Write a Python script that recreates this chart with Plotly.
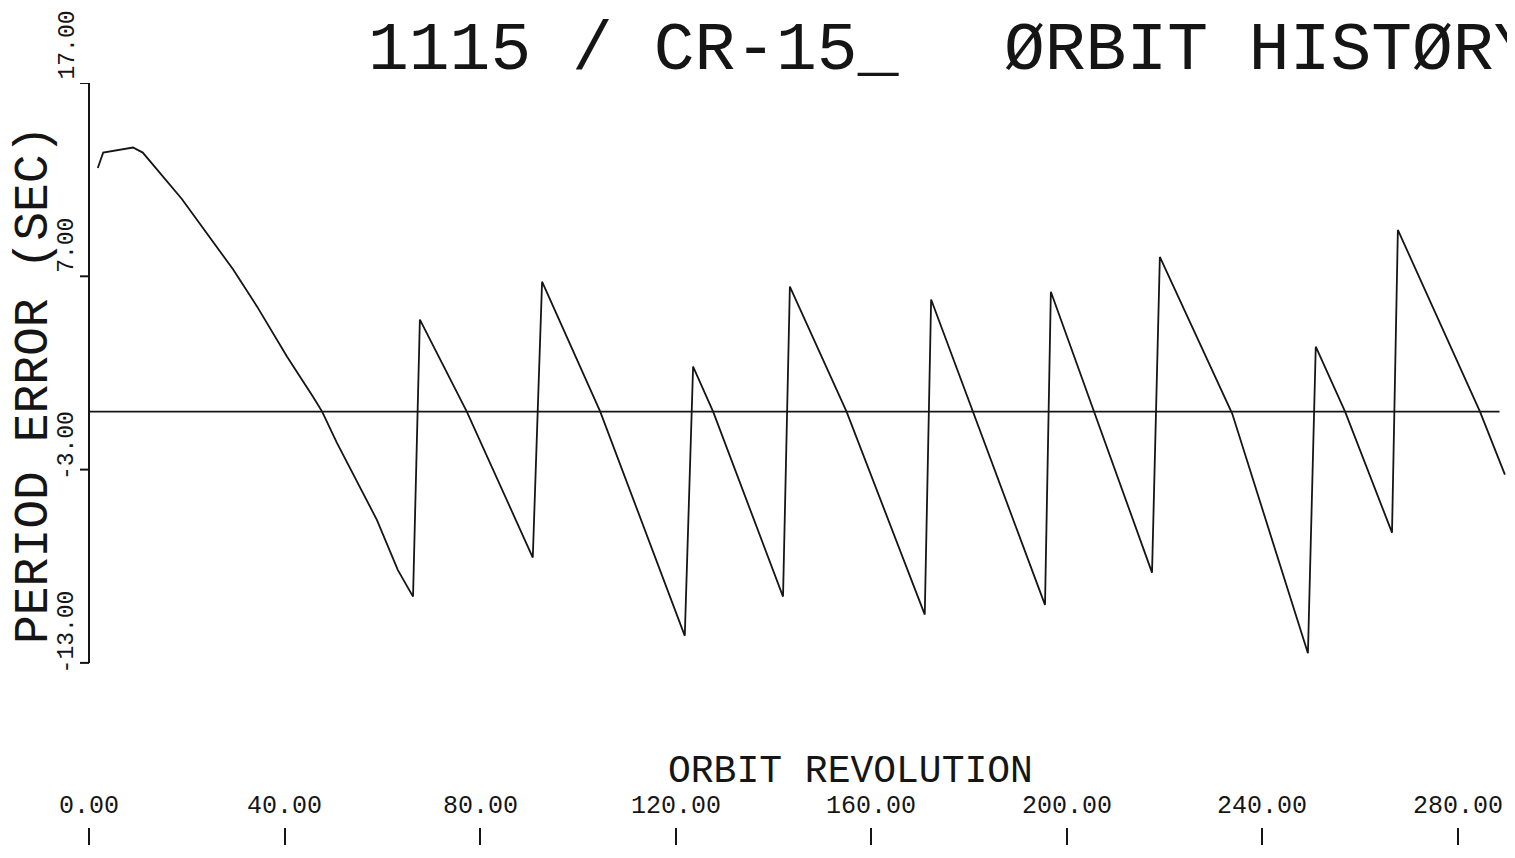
import plotly.graph_objects as go

# ---- data ----
orbit_rev = [1.8, 2.9, 9.0, 11.0, 19.0, 29.5, 34.4, 40.5, 45.8, 47.7, 50.7, 54.0, 58.9, 63.2, 66.3,
             67.7, 77.3, 90.8,
             92.7, 104.6, 121.9,
             123.6, 127.7, 142.0,
             143.4, 155.0, 171.0,
             172.3, 195.6,
             196.8, 217.5,
             219.1, 233.9, 249.4,
             251.0, 257.0, 266.6,
             267.8, 284.6, 289.7]
period_error = [12.6, 13.4, 13.66, 13.4, 11.0, 7.35, 5.43, 2.85, 0.78, 0.0, -1.6, -3.2, -5.6, -8.2, -9.57,
                4.76, 0.0, -7.55,
                6.72, 0.0, -11.6,
                2.33, 0.0, -9.57,
                6.47, 0.0, -10.5,
                5.8, -10.0,
                6.2, -8.33,
                8.0, -0.1, -12.5,
                3.36, 0.0, -6.26,
                9.4, 0.0, -3.26]

x_ticks = [0, 40, 80, 120, 160, 200, 240, 280]
x_tick_labels = ["0.00", "40.00", "80.00", "120.00", "160.00", "200.00", "240.00", "280.00"]
y_ticks = [17, 7, -3, -13]
y_tick_labels = ["17.00", "7.00", "-3.00", "-13.00"]

title_left = "1115 / CR-15_"
title_right = "ØRBIT HISTØRY"
x_title = "ORBIT REVOLUTION"
y_title = "PERIOD ERROR (SEC)"

# ---- layout geometry ----
OFF = 8                      # page body margin
FW, FH = 1515 - OFF, 858 - 2 * OFF
PX_PER_REV = 4.8875
PX_PER_SEC = 19.33
ZERO_X_PAGE = 89
TOP_PAGE = 83                # y = 17
BOT_PAGE = 845               # plot bottom (x tick baseline)
LEFT_PAGE = 79
L = LEFT_PAGE - OFF
T = TOP_PAGE - OFF
B = FH - (BOT_PAGE - OFF)
R = 0
PW = FW - L - R
PH = FH - T - B
X_MIN = -(ZERO_X_PAGE - LEFT_PAGE) / PX_PER_REV
X_MAX = (1515 - ZERO_X_PAGE) / PX_PER_REV
Y_TOP = 17.0
Y_BOT = Y_TOP - (BOT_PAGE - TOP_PAGE) / PX_PER_SEC

def px_x(page_x):
    return (page_x - LEFT_PAGE) / PW

def px_y(page_y):
    return (BOT_PAGE - page_y) / PH

FONT = "Liberation Mono, DejaVu Sans Mono, monospace"
INK = "#151515"

fig = go.Figure()
fig.add_trace(go.Scatter(x=orbit_rev, y=period_error, mode="lines",
                         line=dict(color=INK, width=1.8), showlegend=False,
                         hoverinfo="skip"))

shapes = [
    dict(type="line", xref="x", yref="y", x0=0, x1=0, y0=y_ticks[-1], y1=y_ticks[0],
         line=dict(color=INK, width=2)),
    dict(type="line", xref="x", yref="y", x0=0, x1=288.6, y0=0, y1=0,
         line=dict(color=INK, width=1.6)),
]
tick_len_rev = 9 / PX_PER_REV
for v in y_ticks:
    shapes.append(dict(type="line", xref="x", yref="y", x0=-tick_len_rev, x1=0, y0=v, y1=v,
                       line=dict(color=INK, width=2)))

annotations = []
for v, t in zip(x_ticks, x_tick_labels):
    annotations.append(dict(x=v, xref="x", y=px_y(806), yref="paper", text=t,
                            showarrow=False, xanchor="center", yanchor="middle",
                            font=dict(family=FONT, size=25, color=INK)))
for v, t in zip(y_ticks, y_tick_labels):
    annotations.append(dict(x=px_x(67), xref="paper", y=v, yref="y", text=t,
                            showarrow=False, xanchor="center", yanchor="bottom",
                            yshift=(-14 if v < 0 else 0) + 1, textangle=-90,
                            font=dict(family=FONT, size=23, color=INK)))
annotations.append(dict(x=px_x(366), xref="paper", y=px_y(50), yref="paper", text=title_left,
                        showarrow=False, xanchor="left", yanchor="middle",
                        font=dict(family=FONT, size=68, color=INK)))
annotations.append(dict(x=px_x(1002), xref="paper", y=px_y(50), yref="paper", text=title_right,
                        showarrow=False, xanchor="left", yanchor="middle",
                        font=dict(family=FONT, size=68, color=INK)))
annotations.append(dict(x=px_x(850), xref="paper", y=px_y(771), yref="paper", text=x_title,
                        showarrow=False, xanchor="center", yanchor="middle",
                        font=dict(family=FONT, size=38, color=INK)))
annotations.append(dict(x=px_x(34), xref="paper", y=px_y(385), yref="paper", text=y_title,
                        showarrow=False, xanchor="center", yanchor="middle", textangle=-90,
                        font=dict(family=FONT, size=48, color=INK)))

fig.update_layout(
    width=FW, height=FH,
    margin=dict(l=L, r=R, t=T, b=B, pad=0),
    paper_bgcolor="white", plot_bgcolor="white",
    shapes=shapes, annotations=annotations,
    xaxis=dict(range=[X_MIN, X_MAX], showgrid=False, zeroline=False, showline=False,
               tickmode="array", tickvals=x_ticks, ticks="inside", ticklen=17,
               tickwidth=2, tickcolor=INK, showticklabels=False, fixedrange=True),
    yaxis=dict(range=[Y_BOT, Y_TOP], showgrid=False, zeroline=False, showline=False,
               showticklabels=False, ticks="", fixedrange=True),
)

fig.write_html("out.html")
